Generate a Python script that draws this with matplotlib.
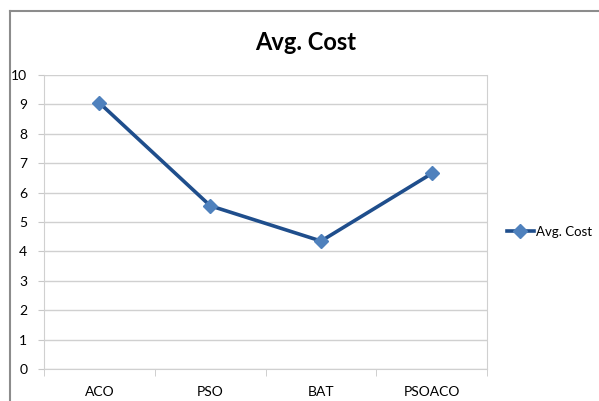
import matplotlib.pyplot as plt
from matplotlib.lines import Line2D

# average cost per algorithm
algorithms = ['ACO', 'PSO', 'BAT', 'PSOACO']
avg_cost = [9.05, 5.55, 4.35, 6.65]
yticks = list(range(0, 11))

plt.rcParams['font.family'] = ['Lato', 'DejaVu Sans']

fig = plt.figure(figsize=(5.99, 4.01), dpi=100)
ax = fig.add_axes([0.0735, 0.080, 0.740, 0.733])

# outer chart border (top and left visible)
fig.add_artist(Line2D([0.016, 0.016], [0.0, 0.972], color='#8c8c8c', lw=1.5))
fig.add_artist(Line2D([0.016, 1.0], [0.972, 0.972], color='#8c8c8c', lw=1.5))

x = range(len(algorithms))
ax.plot(x, avg_cost, color='#1f4e8c', lw=2.6, marker='D', markersize=7,
        markerfacecolor='#4f81bd', markeredgecolor='#4f81bd', label='Avg. Cost')

ax.set_xlim(-0.5, len(algorithms) - 0.5)
ax.set_ylim(0, 10)
ax.set_yticks(yticks)
ax.set_xticks(list(x))
ax.set_xticklabels(algorithms)
ax.set_xticks([i + 0.5 for i in range(-1, len(algorithms))], minor=True)
ax.tick_params(axis='x', which='major', length=0, pad=12, labelsize=10)
ax.tick_params(axis='x', which='minor', length=5, color='#c8c8c8')
ax.tick_params(axis='y', length=4, color='#c8c8c8', labelsize=10, pad=8)

ax.grid(axis='y', color='#d0d0d0', lw=1)
ax.set_axisbelow(True)
for side in ['left', 'right', 'bottom']:
    ax.spines[side].set_color('#d0d0d0')
ax.spines['top'].set_visible(False)

fig.text(0.511, 0.895, 'Avg. Cost', ha='center', va='center',
         fontsize=17, fontweight='bold')

ax.legend(loc='center left', bbox_to_anchor=(1.045, 0.466), frameon=False,
          fontsize=9.5, handlelength=2.0, handletextpad=0.15,
          borderpad=0, borderaxespad=0)

fig.savefig('out.png', dpi=100)
